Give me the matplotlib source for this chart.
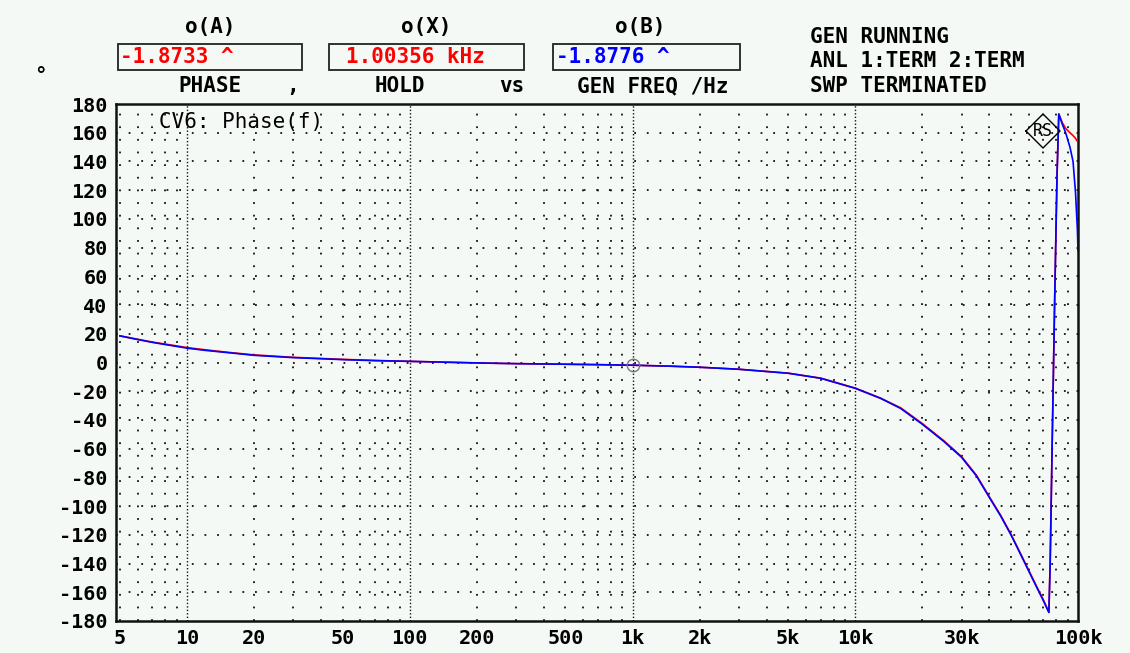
import matplotlib.pyplot as plt
from matplotlib.patches import Rectangle
import numpy as np

# sweep data (Hz, degrees)
freq = [5, 6, 7, 8, 10, 12, 15, 20, 30, 50, 70, 100, 200, 300, 500, 700,
        1000, 1500, 2000, 3000, 5000, 7000, 10000, 13000, 16000, 20000,
        25000, 30000, 35000, 40000, 45000, 50000, 55000, 60000, 65000,
        70000, 74000, 75000, 76500, 78500, 80500, 82000, 85000, 88000,
        92000, 95000, 97500, 99400, 100000]
phase_b = [18.5, 16.0, 14.0, 12.5, 10.0, 8.5, 7.0, 5.0, 3.4, 2.0, 1.3, 0.8,
           -0.3, -0.8, -1.2, -1.5, -1.88, -2.6, -3.3, -4.7, -7.5, -11.0,
           -18.0, -25.0, -32.0, -43.0, -55.0, -66.0, -79.0, -94.0, -107.0,
           -120.0, -133.0, -145.0, -156.0, -166.0, -174.0, -140.0, -60.0,
           40.0, 130.0, 173.0, 166.0, 160.0, 150.0, 140.0, 118.0, 92.0, 78.0]
phase_a = [18.6, 16.2, 14.2, 12.8, 10.4, 8.9, 7.2, 5.3, 3.6, 2.2, 1.4, 0.8,
           -0.3, -0.8, -1.2, -1.5, -1.87, -2.6, -3.3, -4.7, -7.4, -10.9,
           -17.8, -24.8, -31.6, -42.5, -54.5, -65.5, -78.5, -93.5, -106.5,
           -119.5, -132.5, -144.5, -155.5, -165.5, -174.0, -140.0, -60.0,
           40.0, 130.0, 173.0, 167.0, 163.0, 160.0, 158.0, 156.0, 154.0, 153.0]

x_ticks = [5, 10, 20, 50, 100, 200, 500, 1000, 2000, 5000, 10000, 30000, 100000]
x_labels = ['5', '10', '20', '50', '100', '200', '500', '1k', '2k', '5k', '10k', '30k', '100k']
y_ticks = list(range(-180, 181, 20))

marker_f = 1003.56
marker_a = -1.8733
marker_b = -1.8776

W, H = 1130, 653
bg = '#f5f9f6'
mono = 'DejaVu Sans Mono'


def fx(x):
    return x / W


def fy(y):
    return 1 - y / H


fig = plt.figure(figsize=(11.3, 6.53), dpi=100, facecolor=bg)
ax = fig.add_axes([fx(116), fy(621), fx(1078) - fx(116), fy(104) - fy(621)])
ax.set_facecolor(bg)
ax.set_xscale('log')
ax.set_xlim(4.8, 100000)
ax.set_ylim(-180, 180)

# dotted grid: every 20 deg, and 2..9 of each decade on x
dots = (0, (1, 6))
for yv in y_ticks[1:-1]:
    ax.axhline(yv, color='#111111', lw=1.3, ls=dots, zorder=1)
for dec in [1, 10, 100, 1000, 10000]:
    for m in range(2, 10):
        xv = m * dec
        if xv < 5 or xv >= 100000:
            continue
        ax.axvline(xv, color='#111111', lw=1.3, ls=dots, zorder=1)
for xv in [10, 100, 1000, 10000]:
    ax.axvline(xv, color='#111111', lw=1.0, ls=(0, (1, 1.5)), zorder=1)

ax.plot(freq, phase_a, color='#ff0000', lw=1.2, zorder=3)
ax.plot(freq, phase_b, color='#0000ff', lw=1.2, zorder=4)
ax.plot([marker_f], [marker_b], 'o', ms=9, mfc='none', mec='#777777', mew=1, zorder=5)

ax.set_xticks(x_ticks)
ax.set_xticklabels(x_labels)
ax.set_xticks([], minor=True)
ax.set_yticks(y_ticks)
ax.set_yticklabels([str(v) for v in y_ticks])
ax.tick_params(length=0, labelsize=14.5, pad=6)
for lab in ax.get_xticklabels() + ax.get_yticklabels():
    lab.set_fontfamily(mono)
    lab.set_fontweight('bold')
for sp in ax.spines.values():
    sp.set_linewidth(1.8)
    sp.set_color('#111111')

ax.text(0.045, 0.985, 'CV6: Phase(f)', transform=ax.transAxes, family=mono,
        fontsize=15, va='top', ha='left')

# R&S logo
lx, ly, r = 1043, 131, 17
dx = [fx(lx - r), fx(lx), fx(lx + r), fx(lx), fx(lx - r)]
dy = [fy(ly), fy(ly - r), fy(ly), fy(ly + r), fy(ly)]
fig.lines.append(plt.Line2D(dx, dy, transform=fig.transFigure, color='black', lw=1))
fig.text(fx(lx), fy(ly), 'RS', family=mono, fontsize=12, ha='center', va='center')

# readout header
hdr = dict(family=mono, fontweight='bold', fontsize=15)
fig.text(fx(210), fy(27), 'o(A)', ha='center', va='center', **hdr)
fig.text(fx(426), fy(27), 'o(X)', ha='center', va='center', **hdr)
fig.text(fx(640), fy(27), 'o(B)', ha='center', va='center', **hdr)

for x0, x1 in [(118, 302), (329, 524), (553, 740)]:
    fig.patches.append(Rectangle((fx(x0), fy(70)), fx(x1) - fx(x0), fy(44) - fy(70),
                                 transform=fig.transFigure, fill=False,
                                 ec='#222222', lw=1.3))
fig.text(fx(120), fy(57), '-1.8733 ^', color='#ff0000', ha='left', va='center', **hdr)
fig.text(fx(346), fy(57), '1.00356 kHz', color='#ff0000', ha='left', va='center', **hdr)
fig.text(fx(556), fy(57), '-1.8776 ^', color='#0000ff', ha='left', va='center', **hdr)

fig.text(fx(40), fy(76), '°', ha='center', va='center', **hdr)
fig.text(fx(210), fy(86), 'PHASE', ha='center', va='center', **hdr)
fig.text(fx(293), fy(86), ',', ha='center', va='center', **hdr)
fig.text(fx(400), fy(86), 'HOLD', ha='center', va='center', **hdr)
fig.text(fx(512), fy(86), 'vs', ha='center', va='center', **hdr)
fig.text(fx(653), fy(86), 'GEN FREQ /Hz', ha='center', va='center', **hdr)

fig.text(fx(810), fy(37), 'GEN RUNNING', ha='left', va='center', **hdr)
fig.text(fx(810), fy(61), 'ANL 1:TERM 2:TERM', ha='left', va='center', **hdr)
fig.text(fx(810), fy(86), 'SWP TERMINATED', ha='left', va='center', **hdr)

fig.savefig('out.png', dpi=100, facecolor=bg)
